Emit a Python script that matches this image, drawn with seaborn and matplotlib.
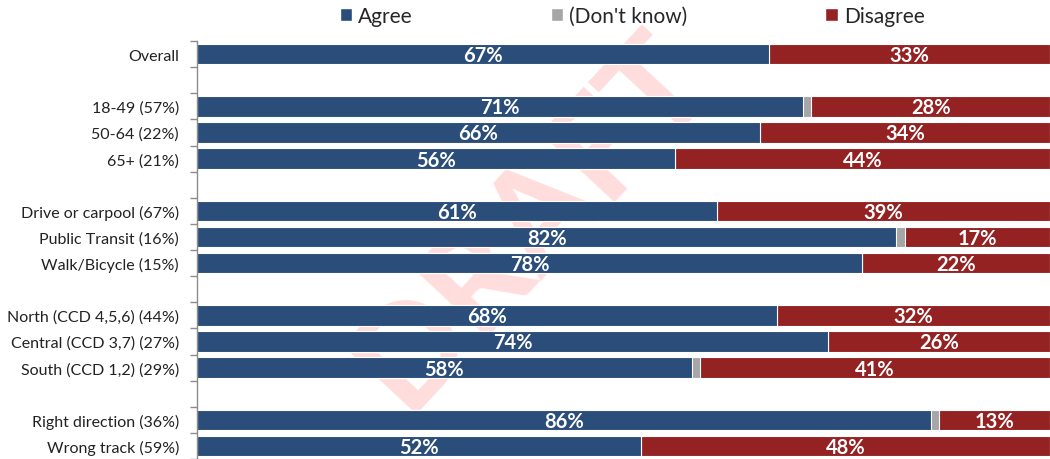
import matplotlib
matplotlib.use("Agg")
import matplotlib.pyplot as plt
import seaborn as sns
import pandas as pd
import numpy as np
from matplotlib.patches import Patch

categories = ["Overall", "18-49 (57%)", "50-64 (22%)", "65+ (21%)",
              "Drive or carpool (67%)", "Public Transit (16%)", "Walk/Bicycle (15%)",
              "North (CCD 4,5,6) (44%)", "Central (CCD 3,7) (27%)", "South (CCD 1,2) (29%)",
              "Right direction (36%)", "Wrong track (59%)"]
agree = [67, 71, 66, 56, 61, 82, 78, 68, 74, 58, 86, 52]
dont_know = [0, 1, 0, 0, 0, 1, 0, 0, 0, 1, 1, 0]
disagree = [33, 28, 34, 44, 39, 17, 22, 32, 26, 41, 13, 48]
gap_after = ["Overall", "65+ (21%)", "Walk/Bicycle (15%)", "South (CCD 1,2) (29%)"]
series_names = ["Agree", "(Don't know)", "Disagree"]

c_agree = "#2a4d7a"
c_dk = "#a6a6a6"
c_dis = "#952222"

sns.set_theme(style="white")
plt.rcParams['font.family'] = ['Lato', 'DejaVu Sans']

df = pd.DataFrame({"cat": categories, "agree": agree, "dk": dont_know, "dis": disagree})
df["cum_dk"] = df["agree"] + df["dk"]
df["cum_all"] = df["agree"] + df["dk"] + df["dis"]

order = []
gi = 0
for c in categories:
    order.append(c)
    if c in gap_after:
        gi += 1
        order.append(f"_gap{gi}")

fig = plt.figure(figsize=(10.5, 4.6), dpi=100)
ax = fig.add_axes([197/1050, 0.0, 1 - 197/1050, 1 - 42/460])

# watermark (behind the bars)
ax.text(0.505, 0.52, "DRAFT", transform=fig.transFigure, fontsize=100, fontweight="bold",
        color="#ff8080", alpha=0.27, rotation=47, ha="center", va="center",
        zorder=0, clip_on=False)

bw = 0.78
sns.barplot(data=df, y="cat", x="cum_all", order=order, color=c_dis, width=bw,
            saturation=1, edgecolor="white", linewidth=0.8, ax=ax, orient="h")
sns.barplot(data=df, y="cat", x="cum_dk", order=order, color=c_dk, width=bw,
            saturation=1, edgecolor="white", linewidth=0.8, ax=ax, orient="h")
sns.barplot(data=df, y="cat", x="agree", order=order, color=c_agree, width=bw,
            saturation=1, edgecolor="white", linewidth=0.8, ax=ax, orient="h")
for p in ax.patches:
    p.set_zorder(2)

for i, row in df.iterrows():
    y = order.index(row["cat"])
    ax.text(row["agree"] / 2, y + 0.04, f"{row['agree']}%", ha="center", va="center",
            color="white", fontsize=14.5, fontweight="bold", zorder=3)
    ax.text(row["cum_dk"] + row["dis"] / 2, y + 0.04, f"{row['dis']}%", ha="center", va="center",
            color="white", fontsize=14.5, fontweight="bold", zorder=3)

ax.set_xlim(0, 100)
ax.set_ylim(len(order) - 0.5, -0.5)
ax.set_xlabel("")
ax.set_ylabel("")
ax.set_xticks([])
ax.set_yticks(range(len(order)))
ax.set_yticklabels([("" if o.startswith("_gap") else o) for o in order], fontsize=11.5, color="#222222")
ax.set_yticks(np.arange(-0.5, len(order), 1.0), minor=True)
ax.tick_params(axis="y", which="major", length=0, pad=13)
ax.tick_params(axis="y", which="minor", length=5, width=1, color="#8c8c8c", direction="out", left=True)
for s in ["top", "right", "bottom"]:
    ax.spines[s].set_visible(False)
ax.spines["left"].set_color("#8c8c8c")
ax.spines["left"].set_linewidth(1)

handles = [Patch(facecolor=c_agree), Patch(facecolor=c_dk), Patch(facecolor=c_dis)]
fig.legend(handles, series_names, loc="center", bbox_to_anchor=(0.602, 0.963), ncol=3,
           frameon=False, fontsize=15, handlelength=0.6, handleheight=0.6,
           handletextpad=0.3, columnspacing=6.6)

fig.savefig("out.png", dpi=100)
